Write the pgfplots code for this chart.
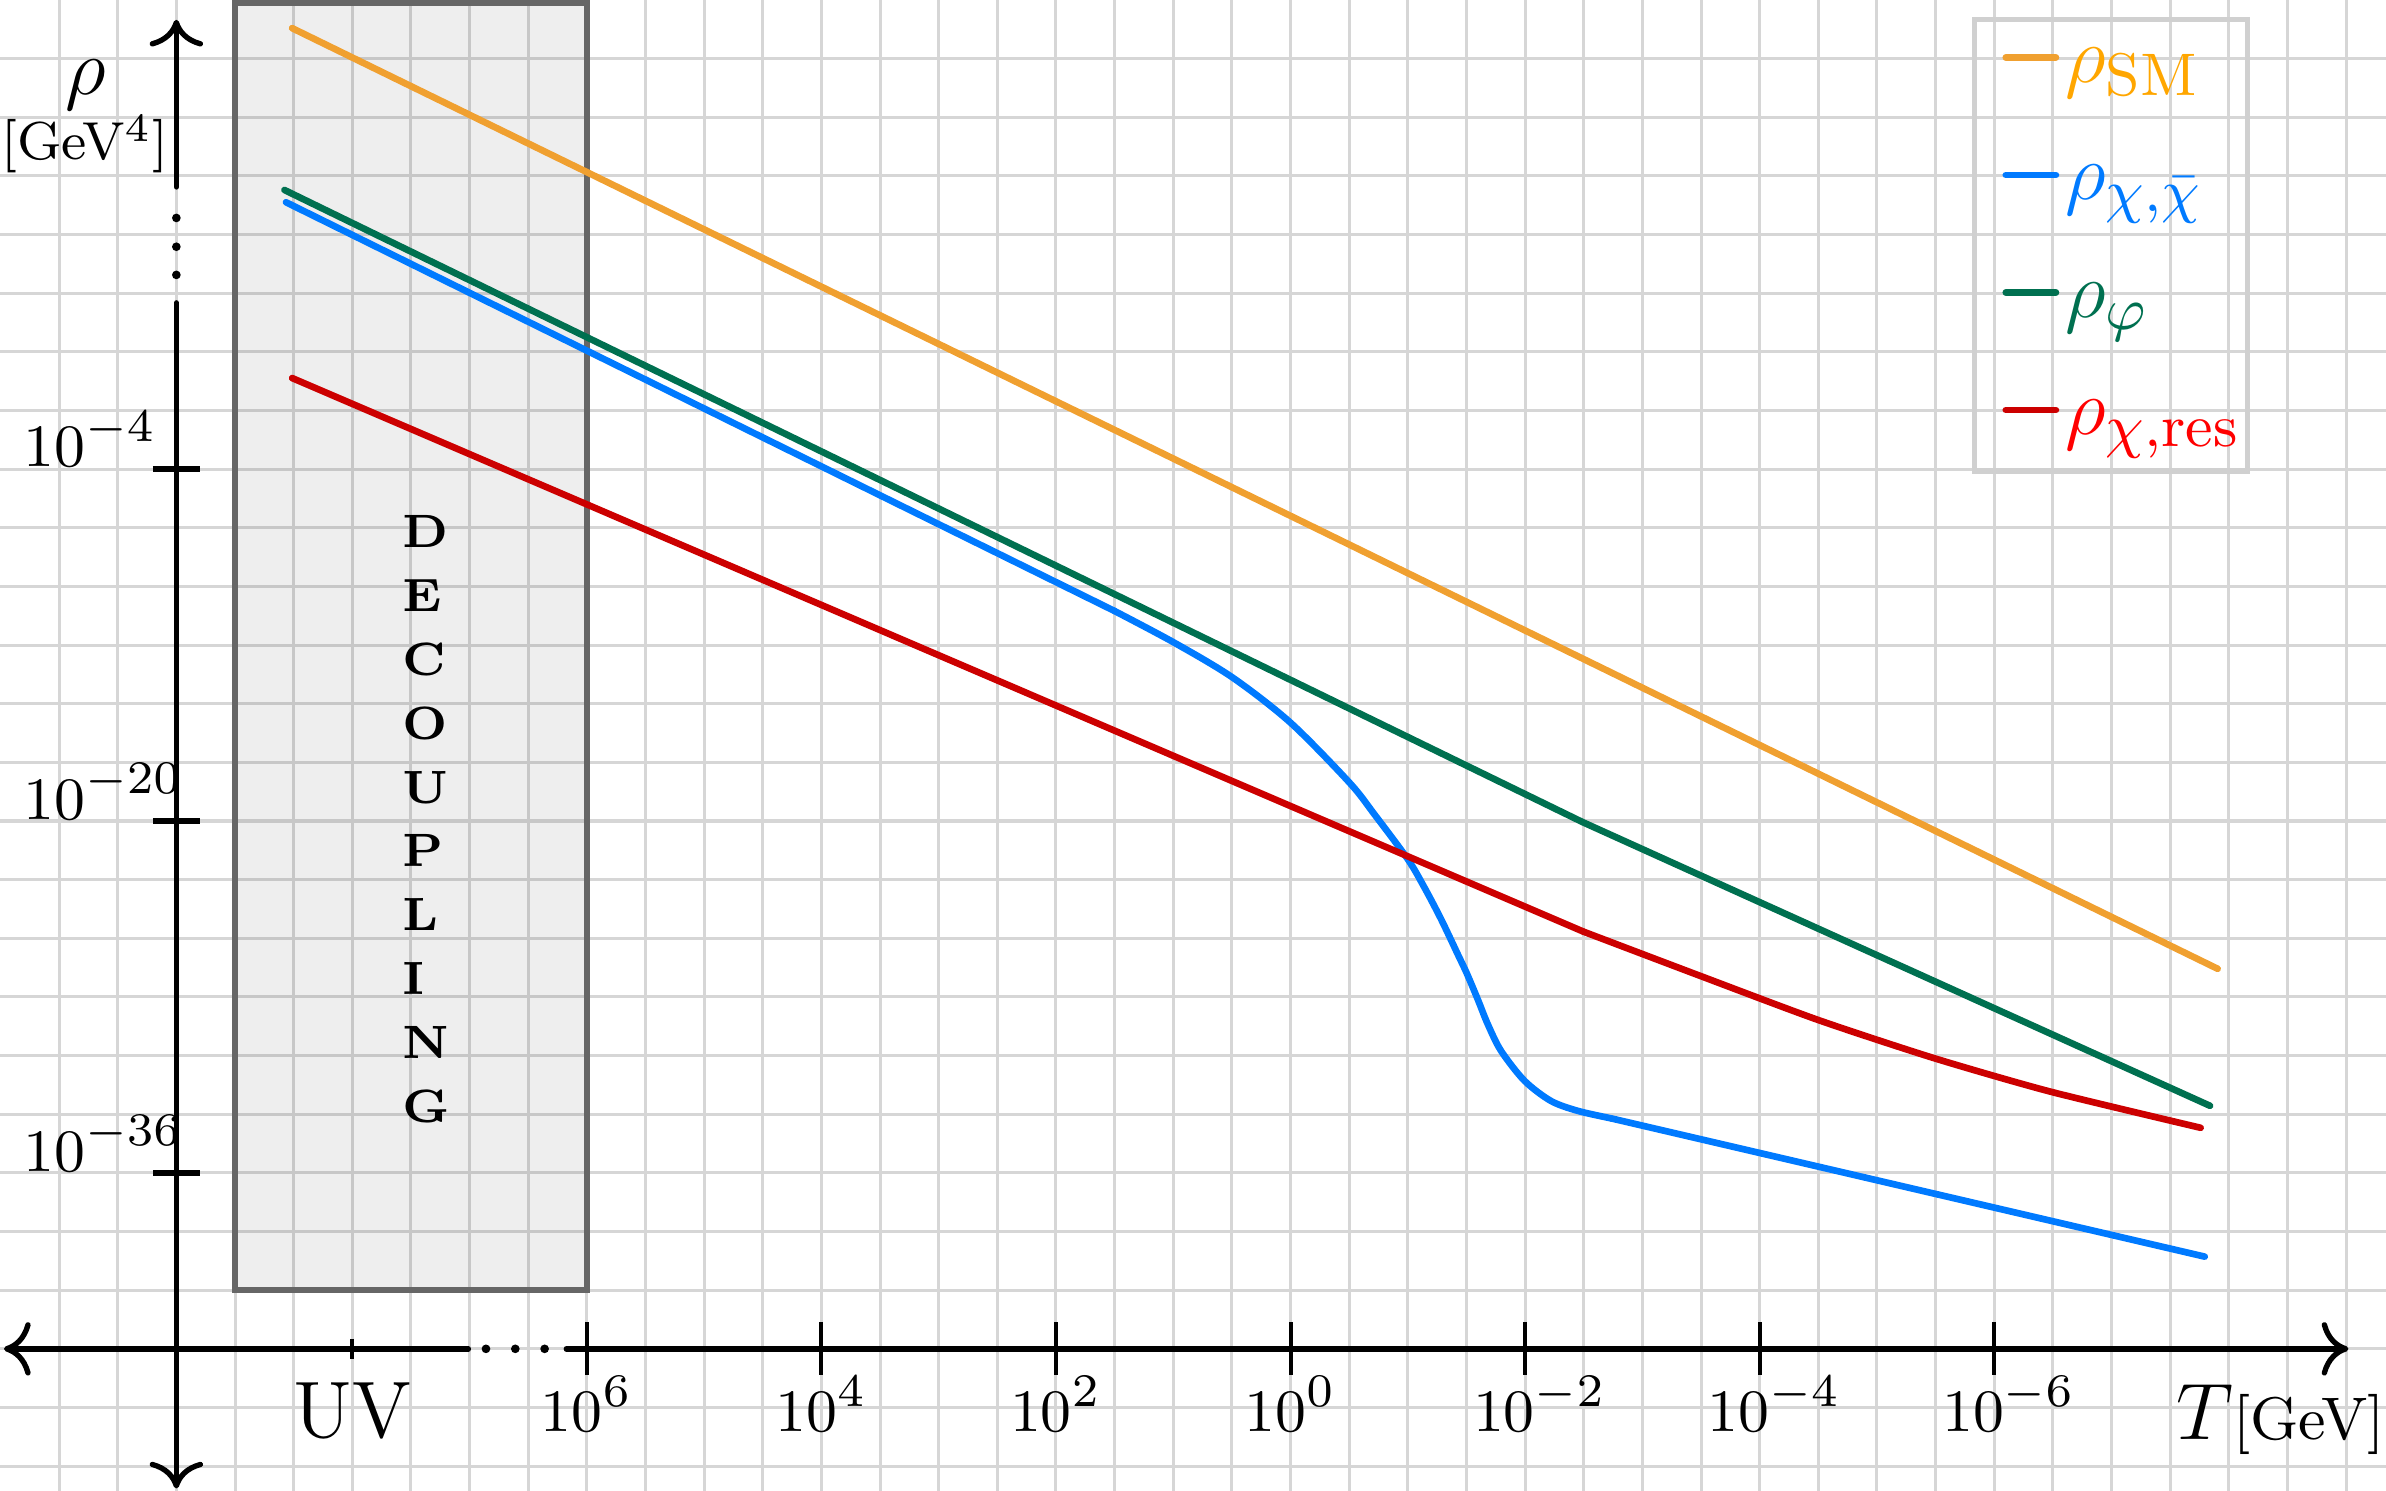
\documentclass[border=0pt]{standalone}
\usepackage{pgfplots}
\pgfplotsset{compat=1.18}
\usetikzlibrary{arrows.meta}

\definecolor{smline}{RGB}{240,160,48}
\definecolor{smtext}{RGB}{255,166,0}
\definecolor{chiblue}{RGB}{0,122,255}
\definecolor{phigreen}{RGB}{0,112,80}
\definecolor{resline}{RGB}{204,0,0}
\definecolor{restext}{RGB}{255,0,0}
\definecolor{gridgray}{RGB}{214,214,214}
\definecolor{boxedge}{RGB}{102,102,102}
\definecolor{legendedge}{RGB}{208,208,208}

\tikzset{
    lbl/.style={inner sep=0pt},
    tlbl/.style={inner sep=0pt, font=\fontsize{9.3}{11}\selectfont},
    letter/.style={inner sep=0pt, anchor=base west, font=\scriptsize\bfseries},
    axarrow/.style={line width=0.8pt, line cap=round, -{To[length=4pt,width=8pt]}},
}

\begin{document}
\begin{tikzpicture}
% x = log10(T/GeV) (reversed), y = log10(rho/GeV^4)
\begin{axis}[
    width=357.2pt, height=223.2pt, scale only axis,
    x dir=reverse,
    xmin=-9.34, xmax=11.004,
    ymin=-50.46, ymax=17.33,
    axis line style={draw=none},
    xtick={-9,-8.5,...,10.5},
    ytick={-49.333,-46.667,-44,-41.333,-38.667,-36,-33.333,-30.667,-28,-25.333,-22.667,-20,
           -17.333,-14.667,-12,-9.333,-6.667,-4,-1.333,1.333,4,6.667,9.333,12,14.667},
    xticklabel=\empty, yticklabel=\empty,
    ticklabel style={inner sep=0pt, outer sep=0pt},
    major tick length=0pt,
    grid=major,
    grid style={draw=gridgray, line width=0.45pt},
    clip=false,
    legend style={at={(0.8264,0.9888)}, anchor=north west,
        draw=legendedge, line width=0.8pt, fill=none,
        inner xsep=1pt, inner ysep=0pt,
        row sep=2.8pt, column sep=0.9pt,
        font=\fontsize{12.8}{15}\selectfont,
        nodes={inner sep=0pt, text height=9.4pt, text depth=5.4pt}},
    legend cell align=left,
    legend image code/.code={
        \draw[#1, line cap=round] (3.2pt,1.7pt) -- (10.7pt,1.7pt);
        \path (0pt,1.7pt);
    },
    curve/.style={line width=1pt, line cap=round, line join=round},
]

% decoupling band
\draw[boxedge, line width=0.9pt, fill=black, fill opacity=0.067] (9.0,-41.333) rectangle (6.0,17.2);

\addplot[smline, curve] coordinates {
    (8.513,16.05) (-7.905,-26.72)
};
\addlegendentry{\textcolor{smtext}{$\rho_{\mathrm{SM}}$}}

\addplot[chiblue, curve, forget plot] coordinates {
    (8.565,8.133) (1.5,-10.453)
};
\addplot[chiblue, curve, forget plot] coordinates {
    (-2.733,-33.52) (-7.795,-39.808)
};
\addplot[chiblue, curve, smooth, tension=0.5] coordinates {
    (1.5,-10.453) (1.0,-11.867) (0.497,-13.467) (0.0,-15.531) (-0.503,-18.259)
    (-0.715,-19.696) (-1.0,-21.741) (-1.142,-23.029) (-1.284,-24.469) (-1.426,-26.061)
    (-1.503,-26.93) (-1.597,-28.12) (-1.682,-29.243) (-1.795,-30.453) (-1.995,-31.813)
    (-2.22,-32.728) (-2.45,-33.181) (-2.733,-33.52)
};
\addlegendentry{\textcolor{chiblue}{$\rho_{\chi,\bar{\chi}}$}}

\addplot[phigreen, curve] coordinates {
    (8.578,8.69) (-2.49,-20.05) (-7.84,-32.95)
};
\addlegendentry{\textcolor{phigreen}{$\rho_{\varphi}$}}

\addplot[resline, curve, forget plot] coordinates {
    (8.513,0.14) (-2.497,-25.03)
};
\addplot[resline, curve, smooth, tension=0.4] coordinates {
    (-2.497,-25.03) (-3.467,-26.99) (-4.495,-29.04)
    (-5.485,-30.78) (-6.475,-32.30) (-7.76,-33.95)
};
\addlegendentry{\textcolor{restext}{$\rho_{\chi,\mathrm{res}}$}}

% hand drawn axes with breaks
\draw[axarrow] (9.5,3.56) -- (9.5,-50.35);
\draw[axarrow] (9.5,8.83) -- (9.5,16.43);
\fill (9.5,7.42) circle[radius=0.65pt];
\fill (9.5,6.11) circle[radius=0.65pt];
\fill (9.5,4.83) circle[radius=0.65pt];
\draw[axarrow] (7.01,-44) -- (10.97,-44);
\draw[axarrow] (6.175,-44) -- (-9.02,-44);
\fill (6.86,-44) circle[radius=0.65pt];
\fill (6.61,-44) circle[radius=0.65pt];
\fill (6.36,-44) circle[radius=0.65pt];

% y ticks
\draw[line width=0.8pt] (9.7,-4) -- (9.3,-4);
\draw[line width=0.8pt] (9.7,-20) -- (9.3,-20);
\draw[line width=0.8pt] (9.7,-36) -- (9.3,-36);
\node[tlbl, anchor=base west] at (10.816,-3.9) {$10^{-4}$};
\node[tlbl, anchor=base west] at (10.816,-19.93) {$10^{-20}$};
\node[tlbl, anchor=base west] at (10.816,-35.93) {$10^{-36}$};

% x ticks
\draw[line width=0.6pt] (8,-43.55) -- (8,-44.45);
\draw[line width=0.6pt] (6,-42.8) -- (6,-45.2);
\draw[line width=0.6pt] (4,-42.8) -- (4,-45.2);
\draw[line width=0.6pt] (2,-42.8) -- (2,-45.2);
\draw[line width=0.6pt] (0,-42.8) -- (0,-45.2);
\draw[line width=0.6pt] (-2,-42.8) -- (-2,-45.2);
\draw[line width=0.6pt] (-4,-42.8) -- (-4,-45.2);
\draw[line width=0.6pt] (-6,-42.8) -- (-6,-45.2);
\node[lbl, anchor=base] at (8,-48.05) {\large UV};
\node[tlbl, anchor=base] at (6,-47.77) {$10^{6}$};
\node[tlbl, anchor=base] at (4,-47.77) {$10^{4}$};
\node[tlbl, anchor=base] at (2,-47.77) {$10^{2}$};
\node[tlbl, anchor=base] at (0,-47.77) {$10^{0}$};
\node[tlbl, anchor=base, xshift=2.2pt] at (-2,-47.77) {$10^{-2}$};
\node[tlbl, anchor=base, xshift=2.2pt] at (-4,-47.77) {$10^{-4}$};
\node[tlbl, anchor=base, xshift=2.2pt] at (-6,-47.77) {$10^{-6}$};

% axis titles
\node[lbl, anchor=base] at (10.27,13.01) {\large$\rho$};
\node[lbl, anchor=base] at (10.28,10.06) {\footnotesize[GeV$^4$]};
\node[lbl, anchor=base west] at (-7.54,-48.13) {\large$T$\small[GeV]};

% band label
\node[letter] at (7.585,-7.58) {D};
\node[letter] at (7.585,-10.481) {E};
\node[letter] at (7.585,-13.382) {C};
\node[letter] at (7.585,-16.283) {O};
\node[letter] at (7.585,-19.184) {U};
\node[letter] at (7.585,-22.085) {P};
\node[letter] at (7.585,-24.986) {L};
\node[letter] at (7.585,-27.887) {I};
\node[letter] at (7.585,-30.788) {N};
\node[letter] at (7.585,-33.689) {G};

\end{axis}
\pgfresetboundingbox
\path[use as bounding box] (current axis.south west) rectangle (current axis.north east);
\end{tikzpicture}
\end{document}
